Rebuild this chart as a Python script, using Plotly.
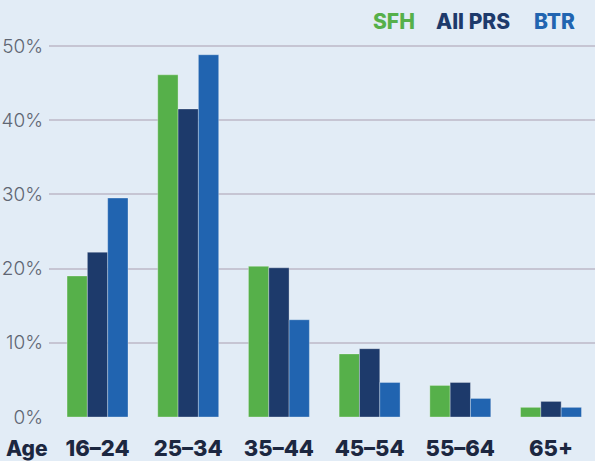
import plotly.graph_objects as go

categories = ["16–24", "25–34", "35–44", "45–54", "55–64", "65+"]
sfh = [19.0, 46.1, 20.3, 8.5, 4.25, 1.3]
all_prs = [22.2, 41.5, 20.1, 9.2, 4.65, 2.1]
btr = [29.5, 48.8, 13.1, 4.65, 2.5, 1.3]
y_ticks = [0, 10, 20, 30, 40, 50]
y_ticklabels = ["0%", "10%", "20%", "30%", "40%", "50%"]

GREEN = "#56b04a"
NAVY = "#1d3a6b"
BLUE = "#2164b0"
BG = "#e2ecf6"
FONT = "Inter"

xs = list(range(len(categories)))

fig = go.Figure()
for name, vals, col in [("SFH", sfh, GREEN), ("All PRS", all_prs, NAVY), ("BTR", btr, BLUE)]:
    fig.add_trace(go.Bar(
        x=xs, y=vals, name=name,
        marker=dict(color=col, line=dict(color="rgba(255,255,255,0.3)", width=1)),
        hoverinfo="skip",
    ))

fig.update_layout(
    width=595, height=461,
    margin=dict(l=49, r=0, t=31, b=42),
    paper_bgcolor=BG, plot_bgcolor=BG,
    barmode="group", bargap=0.328, bargroupgap=0.0,
    showlegend=False,
    font=dict(family=FONT),
    xaxis=dict(
        range=[-0.535, 5.485],
        tickmode="array", tickvals=xs, ticktext=categories,
        tickfont=dict(family=FONT, size=22, color="#1c2740", weight=800),
        showgrid=False, zeroline=False, showline=False,
        ticks="", ticklabelstandoff=16,
        fixedrange=True,
    ),
    yaxis=dict(
        range=[0, 52],
        tickmode="array", tickvals=y_ticks, ticktext=y_ticklabels,
        tickfont=dict(family=FONT, size=19, color="#5f6673", weight=300),
        showgrid=True, gridcolor="#c6c5d3", gridwidth=1.5,
        zeroline=False, showline=False, ticks="",
        ticklabelstandoff=5,
        fixedrange=True,
    ),
)

legend_items = [("SFH", GREEN, 0.632), ("All PRS", NAVY, 0.777), ("BTR", BLUE, 0.926)]
for txt, col, xp in legend_items:
    fig.add_annotation(
        text=txt, xref="paper", yref="paper", x=xp, y=1.0235,
        xanchor="center", yanchor="middle", showarrow=False,
        font=dict(family=FONT, size=21, color=col, weight=800),
    )

fig.add_annotation(
    text="Age", xref="paper", yref="paper", x=-0.0412, y=-0.081,
    xanchor="center", yanchor="middle", showarrow=False,
    font=dict(family=FONT, size=21, color="#1c2740", weight=800),
)

fig.write_html(
    "out.html",
    config={"displayModeBar": False},
    post_script="document.body.style.margin='0';document.body.style.background='" + BG + "';",
)
